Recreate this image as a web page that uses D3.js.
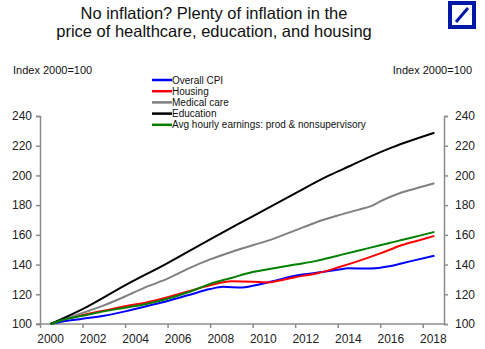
<!DOCTYPE html>
<html>
<head>
<meta charset="UTF-8">
<title>Inflation in healthcare, education and housing</title>
<script src="https://cdn.jsdelivr.net/npm/d3@7"></script>
<style>
  body { margin: 0; background: #fff; }
  text { font-family: Arial, "Liberation Sans", sans-serif; }
</style>
</head>
<body>
<script>
// index values, 2000=100 (year, value)
var cpi = [[2000.5,100],[2001,101.5],[2002,103.5],[2003,105.5],[2004,108.5],[2005,112],[2006,115.5],[2007,119.5],[2008,123.5],[2008.6,125],[2009.5,124.5],[2010,125.7],[2011,129],[2012,132.5],[2013,134.5],[2014,136.5],[2014.5,137.5],[2015.5,137.3],[2016.5,139],[2017.5,142.5],[2018.55,146]];
var housing = [[2000.5,100],[2001,102.5],[2002,106],[2003,109],[2004,112],[2005,114.5],[2006,118],[2007,122],[2008,126],[2009,128.8],[2010,128.5],[2010.7,128],[2011.5,130],[2012,131.5],[2013,134],[2014,138],[2015,142.5],[2016,147.5],[2017,153],[2018,157],[2018.55,159.3]];
var medical = [[2000.5,100],[2002,107.5],[2003,112.5],[2004,118.5],[2005,125],[2006,130.5],[2007,137.5],[2008,143.5],[2009,148.5],[2010,153],[2011,157.5],[2012,163],[2013,168.5],[2014,173],[2015,177],[2015.6,179.5],[2016,182.5],[2017,188.5],[2018,192.5],[2018.55,194.7]];
var education = [[2000.5,100],[2002,110],[2004,126],[2006,141],[2008,157],[2010,172.5],[2012,188],[2013.6,200],[2014.6,206.5],[2015.5,212.5],[2016.5,218.5],[2018.55,228.7]];
var earnings = [[2000.5,100],[2001,102.5],[2002,105.5],[2003,108.5],[2004,111],[2005,113.5],[2006,117],[2007,121.5],[2008,127],[2009,131],[2010,135],[2011,137.5],[2012,140],[2013,142.5],[2014,146],[2015,149.5],[2016,153],[2017,156.5],[2018,160],[2018.55,162]];

var seriesNames = ["Overall CPI", "Housing", "Medical care", "Education", "Avg hourly earnings: prod & nonsupervisory"];
var seriesData = [cpi, housing, medical, education, earnings];
var colors = ["#0000ff", "#ff0000", "#808080", "#000000", "#008000"];
var yTicks = [100, 120, 140, 160, 180, 200, 220, 240];
var xYears = d3.range(2000, 2019, 2);

var w = 485, h = 349;
var svg = d3.select("body").append("svg").attr("width", w).attr("height", h);

var x = d3.scaleLinear().domain([2000, 2019]).range([40, 444]);
var y = d3.scaleLinear().domain([100, 240]).range([324, 116]);

// title
var title = svg.append("text").attr("x", 214).attr("text-anchor", "middle")
    .style("font-size", "16.5px").attr("fill", "#111");
title.append("tspan").attr("x", 214).attr("y", 19).text("No inflation? Plenty of inflation in the");
title.append("tspan").attr("x", 214).attr("y", 37).text("price of healthcare, education, and housing");

// logo
svg.append("rect").attr("x", 450).attr("y", 3).attr("width", 24).attr("height", 24)
    .attr("fill", "none").attr("stroke", "#0018a8").attr("stroke-width", 4);
svg.append("line").attr("x1", 456).attr("y1", 22).attr("x2", 468).attr("y2", 8)
    .attr("stroke", "#0018a8").attr("stroke-width", 3);

svg.append("text").attr("x", 13).attr("y", 74).style("font-size", "11px").attr("fill", "#111").text("Index 2000=100");
svg.append("text").attr("x", 472).attr("y", 74).attr("text-anchor", "end").style("font-size", "11px").attr("fill", "#111").text("Index 2000=100");

// axes
var axisColor = "#8c8c8c";
var left = svg.append("g").attr("transform", "translate(40,0)")
    .call(d3.axisLeft(y).tickValues(yTicks).tickSize(4).tickPadding(4));
var right = svg.append("g").attr("transform", "translate(444,0)")
    .call(d3.axisRight(y).tickValues(yTicks).tickSize(4).tickPadding(7));
var bottom = svg.append("g").attr("transform", "translate(0,324)")
    .call(d3.axisBottom(x).tickValues(d3.range(2000, 2020, 2).filter(function(d){ return d <= 2019; })).tickSize(4).tickFormat(""));
[left, right, bottom].forEach(function(g) {
    g.select(".domain").attr("stroke", axisColor).attr("stroke-width", 1.5);
    g.selectAll(".tick line").attr("stroke", axisColor).attr("stroke-width", 1.5);
    g.selectAll(".tick text").style("font-size", "12px").attr("fill", "#222")
        .style("font-family", "Arial, 'Liberation Sans', sans-serif");
});
bottom.select(".domain").attr("d", "M36,0H444");
// year labels sit in the middle of each year
svg.selectAll(".year").data(xYears).enter().append("text")
    .attr("class", "year")
    .attr("x", function(d) { return x(d + 0.5); })
    .attr("y", 343)
    .attr("text-anchor", "middle")
    .style("font-size", "12px").attr("fill", "#222")
    .text(function(d) { return d; });

// lines
var line = d3.line().x(function(d) { return x(d[0]); }).y(function(d) { return y(d[1]); })
    .curve(d3.curveMonotoneX);
svg.selectAll(".series").data(seriesData).enter().append("path")
    .attr("class", "series")
    .attr("d", line)
    .attr("fill", "none")
    .attr("stroke", function(d, i) { return colors[i]; })
    .attr("stroke-width", 2);

// legend
var leg = svg.selectAll(".leg").data(seriesNames).enter().append("g")
    .attr("transform", function(d, i) { return "translate(152," + (80 + i * 11.2) + ")"; });
leg.append("line").attr("x1", 0).attr("x2", 20).attr("y1", 0).attr("y2", 0)
    .attr("stroke", function(d, i) { return colors[i]; }).attr("stroke-width", 2.5);
leg.append("text").attr("x", 20).attr("y", 3.5).style("font-size", "10px").attr("fill", "#111")
    .text(function(d) { return d; });
</script>
</body>
</html>
